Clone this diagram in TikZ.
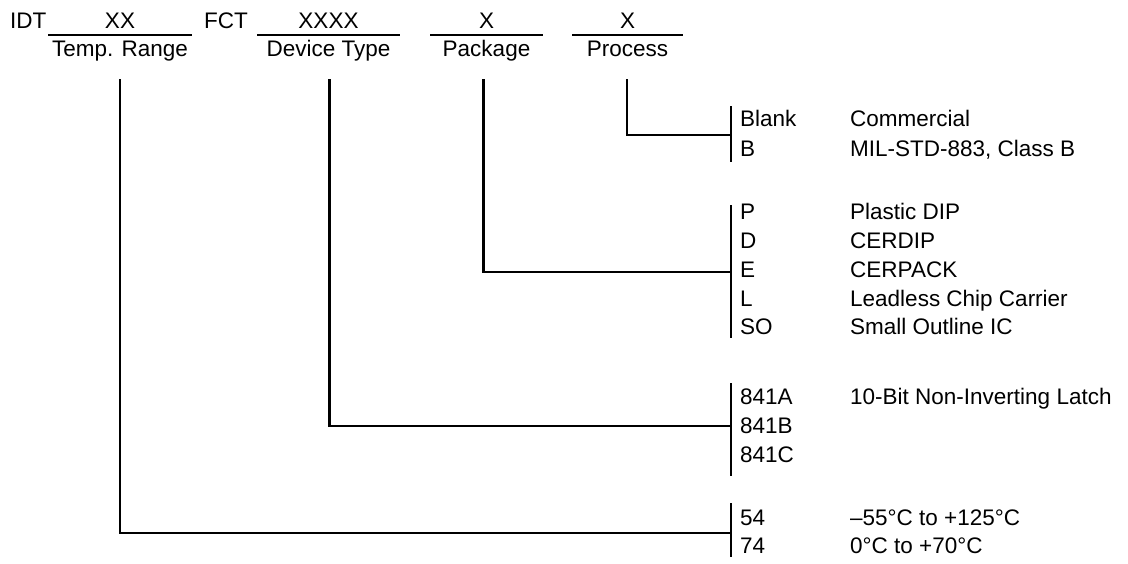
\documentclass[tikz,border=0pt]{standalone}
\usepackage{fontspec}
\setmainfont{Liberation Sans}

\begin{document}
\begin{tikzpicture}[x=1pt, y=-1pt,
    txt/.style={inner sep=0pt, font=\fontsize{22.5}{27}\selectfont},
    code/.style={txt, anchor=base west},
    field/.style={txt, anchor=base},
    link/.style={line width=2.2pt},
    bar/.style={line width=2.6pt}]
    \useasboundingbox (0,0) rectangle (1128,563);

    % part number line
    \node[code] (idt) at (10, 28.3){IDT};
    \node[field] (xx) at (120, 28.3){XX};
    \node[code] (fct) at (204, 28.3){FCT};
    \node[field] (xxxx) at (328.5, 28.3){XXXX};
    \node[field] (xpkg) at (486.5, 28.3){X};
    \node[field] (xproc) at (627.5, 28.3){X};
    \draw[bar](48, 35)--(192, 35);
    \draw[bar](257, 35)--(400, 35);
    \draw[bar](430, 35)--(543, 35);
    \draw[bar](572, 35)--(683, 35);
    \node[field] (temp) at (120, 56.7){Temp. Range};
    \node[field] (device) at (328.5, 56.7){Device Type};
    \node[field] (package) at (486.5, 56.7){Package};
    \node[field] (process) at (627.5, 56.7){Process};

    % process
    \draw[bar](731, 106)--(731, 162);
    \node[code] (blank) at (740, 126.7){Blank};
    \node[code] (classb) at (740, 156){B};
    \node[code] (dblank) at (850, 126.7){Commercial};
    \node[code] (dclassb) at (850, 156){MIL-STD-883, Class B};

    % package
    \draw[bar](731, 205)--(731, 338);
    \node[code] (pdip) at (740, 219){P};
    \node[code] (cdip) at (740, 248){D};
    \node[code] (cpak) at (740, 277){E};
    \node[code] (lcc) at (740, 306){L};
    \node[code] (soic) at (740, 334.5){SO};
    \node[code] (dpdip) at (850, 219){Plastic DIP};
    \node[code] (dcdip) at (850, 248){CERDIP};
    \node[code] (dcpak) at (850, 277){CERPACK};
    \node[code] (dlcc) at (850, 306){Leadless Chip Carrier};
    \node[code] (dsoic) at (850, 334.5){Small Outline IC};

    % device type
    \draw[bar](731, 383)--(731, 476);
    \node[code] (dva) at (740, 404){841A};
    \node[code] (dvb) at (740, 433){841B};
    \node[code] (dvc) at (740, 462){841C};
    \node[code] (ddva) at (850, 404){10-Bit Non-Inverting Latch};

    % temperature range
    \draw[bar](731, 503)--(731, 557);
    \node[code] (mil) at (740, 525){54};
    \node[code] (com) at (740, 553){74};
    \node[code] (dmil) at (850, 525){–55°C to +125°C};
    \node[code] (dcom) at (850, 553){0°C to +70°C};

    % connectors
    \coordinate (tempstart) at (120, 79);
    \coordinate (devicestart) at (329.5, 79);
    \coordinate (packagestart) at (483.5, 79);
    \coordinate (processstart) at (627, 79);
    \coordinate (tempjoin) at (731, 533);
    \coordinate (devicejoin) at (731, 426);
    \coordinate (packagejoin) at (731, 272);
    \coordinate (processjoin) at (731, 135);
    \draw[link](tempstart)|-(tempjoin);
    \draw[link](devicestart)|-(devicejoin);
    \draw[link](packagestart)|-(packagejoin);
    \draw[link](processstart)|-(processjoin);
\end{tikzpicture}
\end{document}
